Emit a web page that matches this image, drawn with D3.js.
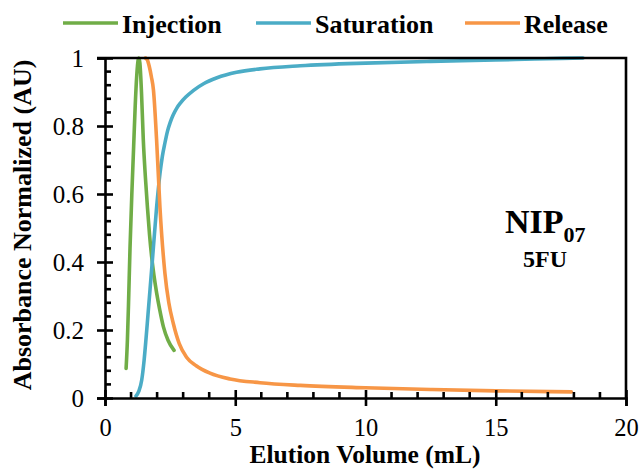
<!DOCTYPE html>
<html>
<head>
<meta charset="utf-8">
<script src="https://cdn.jsdelivr.net/npm/d3@7"></script>
<style>
  html, body { margin: 0; padding: 0; background: #fff; }
  svg { display: block; }
  svg text { font-family: "Liberation Serif", "Times New Roman", serif !important; fill: #000; }
</style>
</head>
<body>
<svg id="chart" width="640" height="475"></svg>
<script>
// Breakthrough curves: normalized absorbance vs elution volume
const injectionX = [0.81, 0.86, 0.90, 0.96, 1.03, 1.10, 1.16, 1.22, 1.27, 1.30, 1.34, 1.40, 1.47, 1.55, 1.63, 1.71, 1.79, 1.88, 1.98, 2.10, 2.24, 2.42, 2.65];
const injectionY = [0.087, 0.17, 0.27, 0.44, 0.60, 0.74, 0.86, 0.95, 0.993, 1.0, 0.985, 0.90, 0.76, 0.65, 0.56, 0.48, 0.416, 0.36, 0.31, 0.26, 0.21, 0.17, 0.14];

const saturationX = [1.19, 1.30, 1.41, 1.50, 1.57, 1.65, 1.73, 1.86, 1.98, 2.11, 2.20, 2.30, 2.40, 2.50, 2.62, 2.75, 2.90, 3.10, 3.40, 3.80, 4.30, 5.05, 5.95, 7.5, 10, 12.5, 15, 16.5, 18.35];
const saturationY = [0.006, 0.02, 0.053, 0.11, 0.17, 0.245, 0.32, 0.445, 0.56, 0.66, 0.71, 0.75, 0.785, 0.81, 0.833, 0.852, 0.868, 0.885, 0.905, 0.925, 0.942, 0.958, 0.968, 0.977, 0.985, 0.99, 0.994, 0.997, 1.0];

const releaseX = [1.55, 1.62, 1.70, 1.78, 1.86, 1.98, 2.11, 2.30, 2.45, 2.62, 2.85, 3.13, 3.50, 4.03, 4.80, 5.95, 7.5, 10, 12.5, 15, 17.9];
const releaseY = [1.0, 0.995, 0.975, 0.945, 0.906, 0.76, 0.56, 0.367, 0.28, 0.22, 0.16, 0.12, 0.095, 0.073, 0.056, 0.045, 0.037, 0.03, 0.025, 0.021, 0.018];

const seriesNames = ["Injection", "Saturation", "Release"];
const seriesColors = ["#70ad47", "#4bacc6", "#f79646"];

const xMajorTicks = [0, 5, 10, 15, 20];
const xMinorTicks = d3.range(1, 20).filter(v => v % 5 !== 0);
const yMajorTicks = [0, 0.2, 0.4, 0.6, 0.8, 1];
const yMinorTicks = d3.range(1, 25).filter(i => i % 5 !== 0).map(i => i * 0.04);

const svg = d3.select("#chart");
const plotLeft = 105, plotRight = 626, plotTop = 58, plotBottom = 398;
const serif = "'Liberation Serif', 'Times New Roman', serif";

const x = d3.scaleLinear().domain([0, 20]).range([plotLeft, plotRight]);
const y = d3.scaleLinear().domain([0, 1]).range([plotBottom, plotTop]);

const series = [
  { name: seriesNames[0], color: seriesColors[0], xs: injectionX, ys: injectionY },
  { name: seriesNames[1], color: seriesColors[1], xs: saturationX, ys: saturationY },
  { name: seriesNames[2], color: seriesColors[2], xs: releaseX, ys: releaseY }
];

// Curves
const line = d3.line().x(d => x(d[0])).y(d => y(d[1])).curve(d3.curveMonotoneX);
svg.append("g").selectAll("path").data(series).join("path")
  .attr("d", s => line(s.xs.map((v, i) => [v, s.ys[i]])))
  .attr("fill", "none")
  .attr("stroke", s => s.color)
  .attr("stroke-width", 3.6)
  .attr("stroke-linejoin", "round")
  .attr("stroke-linecap", "round");

const axisW = 2.6;

// Y axis: major ticks cross the line, minor ticks point inward
const yAxis = svg.append("g").attr("transform", `translate(${plotLeft},0)`)
  .call(d3.axisLeft(y).tickValues(yMajorTicks).tickSize(8).tickPadding(13)
    .tickFormat(d => d === 0 || d === 1 ? d3.format("d")(d) : d3.format(".1f")(d)));
yAxis.attr("font-family", serif);
yAxis.select(".domain").attr("stroke-width", axisW);
yAxis.selectAll(".tick line").attr("x2", -8).attr("x1", 8).attr("stroke-width", axisW);
yAxis.selectAll(".tick text").attr("font-size", 25).style("font-family", serif);
svg.append("g").selectAll("line").data(yMinorTicks).join("line")
  .attr("x1", plotLeft).attr("x2", plotLeft + 6)
  .attr("y1", d => y(d)).attr("y2", d => y(d))
  .attr("stroke", "#000").attr("stroke-width", axisW);

// X axis
const xAxis = svg.append("g").attr("transform", `translate(0,${plotBottom})`)
  .call(d3.axisBottom(x).tickValues(xMajorTicks).tickSize(8).tickPadding(12.5).tickFormat(d3.format("d")));
xAxis.attr("font-family", serif);
xAxis.select(".domain").attr("stroke-width", axisW);
xAxis.selectAll(".tick line").attr("y1", -8).attr("y2", 8).attr("stroke-width", axisW);
xAxis.selectAll(".tick text").attr("font-size", 24.5).style("font-family", serif);
svg.append("g").selectAll("line").data(xMinorTicks).join("line")
  .attr("x1", d => x(d)).attr("x2", d => x(d))
  .attr("y1", plotBottom).attr("y2", plotBottom - 6)
  .attr("stroke", "#000").attr("stroke-width", axisW);

// Frame: top and right edges
svg.append("path")
  .attr("d", `M${plotLeft - 8},${plotTop}H${plotRight}V${plotBottom}`)
  .attr("fill", "none").attr("stroke", "#000").attr("stroke-width", axisW);

// Axis titles
svg.append("text")
  .attr("x", 365).attr("y", 463)
  .attr("text-anchor", "middle")
  .attr("font-size", 25.5).attr("font-weight", "bold")
  .style("font-family", serif)
  .text("Elution Volume (mL)");
svg.append("text")
  .attr("transform", "translate(31,225) rotate(-90)")
  .attr("text-anchor", "middle")
  .attr("font-size", 26).attr("font-weight", "bold")
  .style("font-family", serif)
  .text("Absorbance Normalized (AU)");

// Legend
const legendPos = [63, 256, 465];
const legend = svg.append("g").selectAll("g").data(series).join("g")
  .attr("transform", (d, i) => `translate(${legendPos[i]},0)`);
legend.append("line")
  .attr("x1", 0).attr("x2", 55).attr("y1", 23).attr("y2", 23)
  .attr("stroke", d => d.color).attr("stroke-width", 3.6);
legend.append("text")
  .attr("x", 59).attr("y", 33)
  .attr("font-size", 26).attr("font-weight", "bold")
  .style("font-family", serif)
  .text(d => d.name);

// Sample annotation
const ann = svg.append("text").attr("x", 505).attr("y", 233)
  .attr("font-size", 34).attr("font-weight", "bold")
  .style("font-family", serif);
ann.append("tspan").text("NIP");
ann.append("tspan").attr("dy", 9).attr("font-size", 22).text("07");
svg.append("text")
  .attr("x", 545).attr("y", 267)
  .attr("text-anchor", "middle")
  .attr("font-size", 24).attr("font-weight", "bold")
  .style("font-family", serif)
  .text("5FU");
</script>
</body>
</html>
